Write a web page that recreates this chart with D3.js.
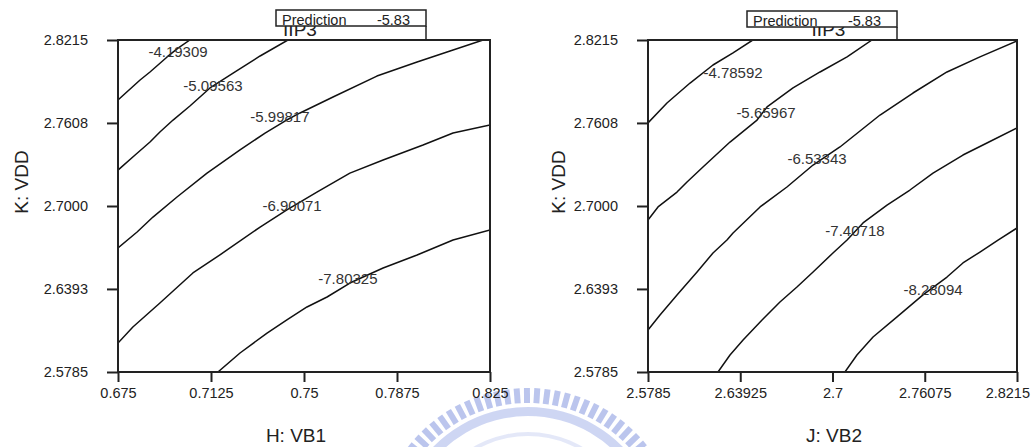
<!DOCTYPE html>
<html>
<head>
<meta charset="utf-8">
<script src="https://cdn.jsdelivr.net/npm/d3@7"></script>
<style>
  html, body { margin: 0; padding: 0; background: #fff; }
  svg { display: block; font-family: "Liberation Sans", Arial, sans-serif; }
</style>
</head>
<body>
<svg id="chart" width="1031" height="447"></svg>
<script>
// ---- factor ranges and tick labels ----
const hTicks = [0.675, 0.7125, 0.75, 0.7875, 0.825];
const hTickLabels = ["0.675", "0.7125", "0.75", "0.7875", "0.825"];
const jTicks = [2.5785, 2.63925, 2.7, 2.76075, 2.8215];
const jTickLabels = ["2.5785", "2.63925", "2.7", "2.76075", "2.8215"];
const kTicks = [2.5785, 2.6393, 2.7000, 2.7608, 2.8215];
const kTickLabels = ["2.5785", "2.6393", "2.7000", "2.7608", "2.8215"];

const responseName = "IIP3";
const predictionValue = -5.83;

// ---- IIP3 contours over H: VB1 (x) and K: VDD (y) ----
const levelsHK = [-4.19309, -5.09563, -5.99817, -6.90071, -7.80325];
const contoursHK = [
  [[0.6750, 2.7776], [0.6839, 2.7922], [0.6879, 2.7981], [0.6948, 2.8091], [0.6992, 2.8156], [0.7040, 2.8215]],
  [[0.6750, 2.7263], [0.6819, 2.7373], [0.6879, 2.7468], [0.6919, 2.7542], [0.6972, 2.7629], [0.7040, 2.7732],
   [0.7121, 2.7864], [0.7222, 2.7981], [0.7323, 2.8098], [0.7435, 2.8215]],
  [[0.6750, 2.6693], [0.6827, 2.6810], [0.6891, 2.6919], [0.6988, 2.7066], [0.7109, 2.7241], [0.7242, 2.7410],
   [0.7343, 2.7534], [0.7423, 2.7622], [0.7484, 2.7681], [0.7617, 2.7798], [0.7794, 2.7951], [0.7956, 2.8054],
   [0.8089, 2.8134], [0.8222, 2.8215]],
  [[0.6750, 2.5997], [0.6810, 2.6114], [0.6919, 2.6290], [0.7052, 2.6510], [0.7149, 2.6627], [0.7190, 2.6678],
   [0.7323, 2.6846], [0.7431, 2.6971], [0.7552, 2.7102], [0.7685, 2.7241], [0.7819, 2.7337], [0.7980, 2.7446],
   [0.8101, 2.7534], [0.8250, 2.7593]],
  [[0.7153, 2.5785], [0.7242, 2.5924], [0.7351, 2.6070], [0.7431, 2.6166], [0.7512, 2.6261], [0.7593, 2.6334],
   [0.7685, 2.6436], [0.7819, 2.6546], [0.7956, 2.6641], [0.8101, 2.6751], [0.8250, 2.6824]]
];
const labelAtHK = [[0.6992, 2.8127], [0.7133, 2.7878], [0.7403, 2.7651], [0.7452, 2.7000], [0.7677, 2.6466]];

// ---- IIP3 contours over J: VB2 (x) and K: VDD (y) ----
const levelsJK = [-4.78592, -5.65967, -6.53343, -7.40718, -8.28094];
const contoursJK = [
  [[2.5785, 2.7608], [2.5910, 2.7754], [2.6062, 2.7900], [2.6213, 2.8032], [2.6345, 2.8120], [2.6475, 2.8215]],
  [[2.5785, 2.6898], [2.5851, 2.6993], [2.5976, 2.7102], [2.6042, 2.7176], [2.6147, 2.7285], [2.6325, 2.7468],
   [2.6503, 2.7629], [2.6569, 2.7725], [2.6740, 2.7864], [2.6918, 2.7981], [2.7096, 2.8091], [2.7260, 2.8215]],
  [[2.5785, 2.6092], [2.5864, 2.6202], [2.5976, 2.6349], [2.6108, 2.6517], [2.6213, 2.6656], [2.6305, 2.6751],
   [2.6345, 2.6802], [2.6523, 2.6993], [2.6700, 2.7139], [2.6872, 2.7300], [2.7049, 2.7432], [2.7181, 2.7549],
   [2.7313, 2.7666], [2.7530, 2.7827], [2.7754, 2.7981], [2.7971, 2.8091], [2.8215, 2.8208]],
  [[2.6246, 2.5785], [2.6325, 2.5909], [2.6411, 2.6019], [2.6536, 2.6166], [2.6654, 2.6297], [2.6766, 2.6407],
   [2.6872, 2.6517], [2.7003, 2.6656], [2.7096, 2.6751], [2.7201, 2.6876], [2.7359, 2.7007], [2.7510, 2.7117],
   [2.7662, 2.7241], [2.7859, 2.7373], [2.8017, 2.7461], [2.8215, 2.7571]],
  [[2.7082, 2.5785], [2.7161, 2.5909], [2.7267, 2.6041], [2.7425, 2.6188], [2.7596, 2.6349], [2.7754, 2.6480],
   [2.7859, 2.6583], [2.7971, 2.6663], [2.8090, 2.6751], [2.8215, 2.6839]]
];
const labelAtJK = [[2.6345, 2.7973], [2.6562, 2.7681], [2.6898, 2.7344], [2.7148, 2.6817], [2.7662, 2.6385]];

const W = 1031, H = 447;
const svg = d3.select("#chart");
svg.append("rect").attr("width", W).attr("height", H).attr("fill", "#fff");
const defs = svg.append("defs");

// faint university emblem behind the lower middle
defs.append("filter").attr("id", "soft")
  .append("feGaussianBlur").attr("stdDeviation", 0.7);
const emblem = svg.append("g").attr("opacity", 0.6).attr("filter", "url(#soft)");
const ecx = 528, ecy = 540;
for (let a = -145; a <= -35; a += 3.9) {
  emblem.append("rect")
    .attr("x", -3).attr("y", -152).attr("width", 6).attr("height", 15)
    .attr("fill", "#8e9fe2")
    .attr("transform", `translate(${ecx},${ecy}) rotate(${a + 90})`);
}
emblem.append("path")
  .attr("transform", `translate(${ecx},${ecy})`)
  .attr("d", d3.arc().innerRadius(124).outerRadius(133).startAngle(-1.05).endAngle(1.05)())
  .attr("fill", "#aebbec");
emblem.append("path")
  .attr("transform", `translate(${ecx},${ecy})`)
  .attr("d", d3.arc().innerRadius(104).outerRadius(108).startAngle(-0.8).endAngle(0.8)())
  .attr("fill", "#d3daf5");

function panel(opts) {
  const { x0, x1, y0, y1, xDomain, xTicks, xLabels, yTicks, yLabels,
          contours, levels, labelAt, xTitle, xTitleX, yTitleX, box, clipId } = opts;
  const x = d3.scaleLinear().domain(xDomain).range([x0, x1]);
  const y = d3.scaleLinear().domain([2.5785, 2.8215]).range([y1, y0]);
  const g = svg.append("g");

  defs.append("clipPath").attr("id", clipId)
    .append("rect").attr("x", x0).attr("y", y0).attr("width", x1 - x0).attr("height", y1 - y0);

  // contour lines
  const line = d3.line().x(d => x(d[0])).y(d => y(d[1]));
  g.append("g").attr("clip-path", `url(#${clipId})`)
    .selectAll("path").data(contours).join("path")
    .attr("d", line)
    .attr("fill", "none").attr("stroke", "#111").attr("stroke-width", 1.5)
    .attr("stroke-linejoin", "round");

  // contour level labels
  g.append("g").selectAll("text").data(levels).join("text")
    .attr("x", (d, i) => x(labelAt[i][0]))
    .attr("y", (d, i) => y(labelAt[i][1]))
    .attr("dy", "0.36em")
    .attr("text-anchor", "middle")
    .attr("font-size", 15)
    .attr("fill", "#333")
    .text(d => d.toFixed(5));

  // axes
  const yAxis = d3.axisLeft(y).tickValues(yTicks)
    .tickFormat((d, i) => yLabels[i]).tickSizeInner(11).tickSizeOuter(0).tickPadding(19);
  const xAxis = d3.axisBottom(x).tickValues(xTicks)
    .tickFormat((d, i) => xLabels[i]).tickSizeInner(10).tickSizeOuter(0).tickPadding(6);
  const ya = g.append("g").attr("transform", `translate(${x0},0)`).call(yAxis);
  const xa = g.append("g").attr("transform", `translate(0,${y1})`).call(xAxis);
  [ya, xa].forEach(a => {
    a.attr("font-size", null).attr("font-family", null);
    a.select(".domain").remove();
    a.selectAll(".tick line").attr("stroke", "#222").attr("stroke-width", 2);
    a.selectAll(".tick text").attr("fill", "#222")
      .style("font-size", "14.5px")
      .style("font-family", "'Liberation Sans', Arial, sans-serif");
  });
  // keep the last bottom label inside the page edge
  xa.selectAll(".tick text").each(function () {
    const b = this.getBoundingClientRect();
    if (b.right > W - 1) d3.select(this).attr("dx", (W - 1 - b.right).toFixed(1));
  });

  // frame
  g.append("rect").attr("x", x0).attr("y", y0).attr("width", x1 - x0).attr("height", y1 - y0)
    .attr("fill", "none").attr("stroke", "#222").attr("stroke-width", 2);

  // response title, partly covered by the prediction box
  g.append("text").attr("x", (x0 + x1) / 2 - 4).attr("y", 35.5)
    .attr("text-anchor", "middle").attr("font-size", 19).attr("fill", "#222")
    .text(responseName);
  g.append("line").attr("x1", box.x + box.w).attr("x2", box.x + box.w)
    .attr("y1", box.y + box.h).attr("y2", y0)
    .attr("stroke", "#222").attr("stroke-width", 1.5);
  g.append("rect").attr("x", box.x).attr("y", box.y).attr("width", box.w).attr("height", box.h)
    .attr("fill", "#fff").attr("stroke", "#222").attr("stroke-width", 1.5);
  g.append("text").attr("x", box.x + 6).attr("y", box.y + 14.5)
    .attr("font-size", 14.5).attr("fill", "#222").text("Prediction");
  g.append("text").attr("x", box.x + box.w - 16).attr("y", box.y + 14.5)
    .attr("text-anchor", "end").attr("font-size", 14.5).attr("fill", "#222")
    .text(predictionValue.toFixed(2));

  // axis titles
  g.append("text").attr("x", xTitleX).attr("y", 442)
    .attr("text-anchor", "middle").attr("font-size", 19).attr("fill", "#222").text(xTitle);
  g.append("text").attr("transform", `translate(${yTitleX},182) rotate(-90)`)
    .attr("text-anchor", "middle").attr("dy", "0.36em").attr("font-size", 19).attr("fill", "#222")
    .text("K: VDD");
}

panel({
  x0: 118, x1: 490, y0: 40, y1: 372,
  xDomain: [0.675, 0.825], xTicks: hTicks, xLabels: hTickLabels,
  yTicks: kTicks, yLabels: kTickLabels,
  contours: contoursHK, levels: levelsHK, labelAt: labelAtHK,
  xTitle: "H: VB1", xTitleX: 296, yTitleX: 21,
  box: { x: 276, y: 10, w: 150, h: 16 }, clipId: "clipHK"
});

panel({
  x0: 648, x1: 1017, y0: 40, y1: 372,
  xDomain: [2.5785, 2.8215], xTicks: jTicks, xLabels: jTickLabels,
  yTicks: kTicks, yLabels: kTickLabels,
  contours: contoursJK, levels: levelsJK, labelAt: labelAtJK,
  xTitle: "J: VB2", xTitleX: 834, yTitleX: 558,
  box: { x: 747, y: 11, w: 150, h: 16 }, clipId: "clipJK"
});
</script>
</body>
</html>
